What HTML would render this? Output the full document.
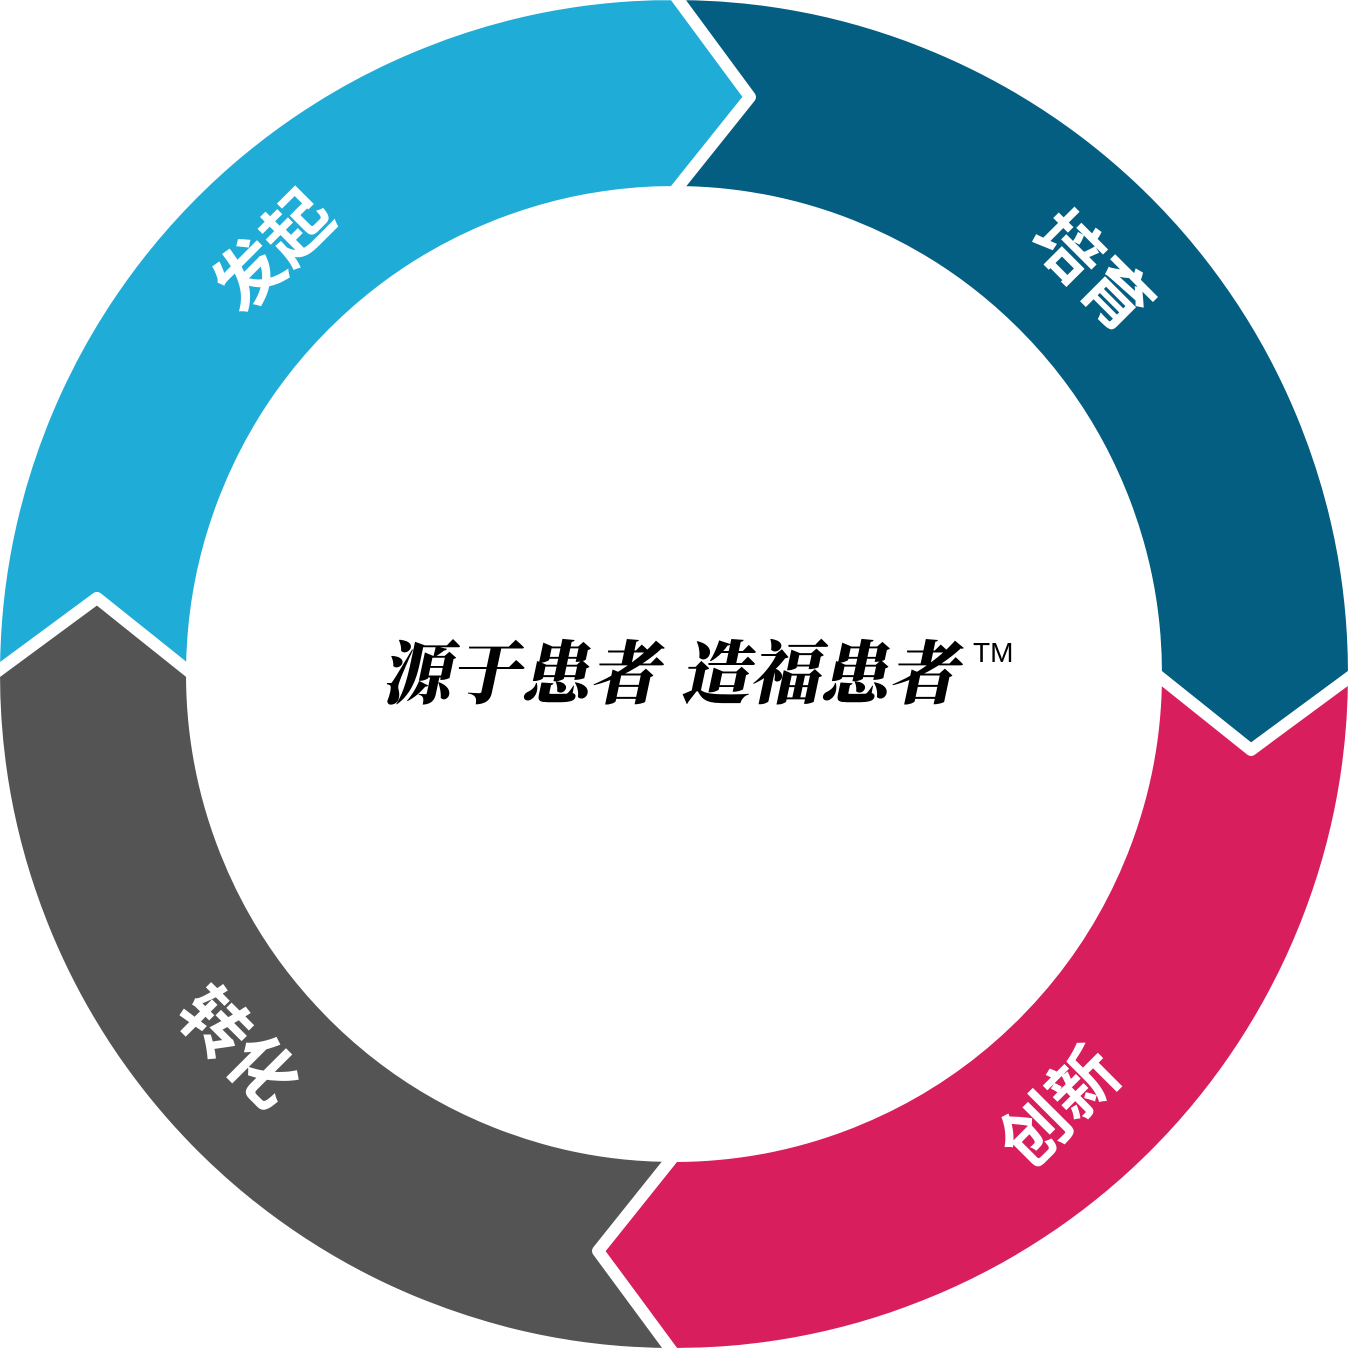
<!DOCTYPE html>
<html><head><meta charset="utf-8">
<style>
html,body{margin:0;padding:0;background:#fff;}
body{width:1348px;height:1348px;overflow:hidden;position:relative;}
svg{position:absolute;left:0;top:0;}
.lbl{font-family:"Liberation Sans","Noto Sans CJK SC",sans-serif;font-weight:bold;font-size:68px;fill:#fff;}
.ctr{font-family:"Liberation Serif","Noto Serif CJK SC",serif;font-weight:900;font-size:69px;fill:#000;}
</style></head>
<body>
<svg width="1348" height="1348" viewBox="0 0 1348 1348">
<g stroke="#fff" stroke-width="12" stroke-linejoin="round">
<path fill="#1fadd8" d="M -6 674 A 680 680 0 0 1 674 -6 L 750 97 L 674 192 A 482 482 0 0 0 192 674 L 97 598 Z"/>
<path fill="#035e82" d="M 674 -6 A 680 680 0 0 1 1354 674 L 1251 750 L 1156 674 A 482 482 0 0 0 674 192 L 750 97 Z"/>
<path fill="#d91e5e" d="M 1354 674 A 680 680 0 0 1 674 1354 L 598 1251 L 674 1156 A 482 482 0 0 0 1156 674 L 1251 750 Z"/>
<path fill="#545454" d="M 674 1354 A 680 680 0 0 1 -6 674 L 97 598 L 192 674 A 482 482 0 0 0 674 1156 L 598 1251 Z"/>
</g>
<text class="lbl" text-anchor="middle" dominant-baseline="central" transform="translate(274,252) rotate(-45)">发起</text>
<text class="lbl" text-anchor="middle" dominant-baseline="central" transform="translate(1092,272) rotate(45)">培育</text>
<text class="lbl" text-anchor="middle" dominant-baseline="central" transform="translate(1060,1108) rotate(-45)">创新</text>
<text class="lbl" text-anchor="middle" dominant-baseline="central" transform="translate(238,1048) rotate(45)">转化</text>
<text class="ctr" transform="translate(381,698) skewX(-12)" textLength="278" lengthAdjust="spacingAndGlyphs">源于患者</text>
<text class="ctr" transform="translate(680,698) skewX(-12)" textLength="278" lengthAdjust="spacingAndGlyphs">造福患者</text>
<text x="973" y="662" font-family="Liberation Sans,sans-serif" font-size="28" fill="#000">TM</text>
</svg>
</body></html>
